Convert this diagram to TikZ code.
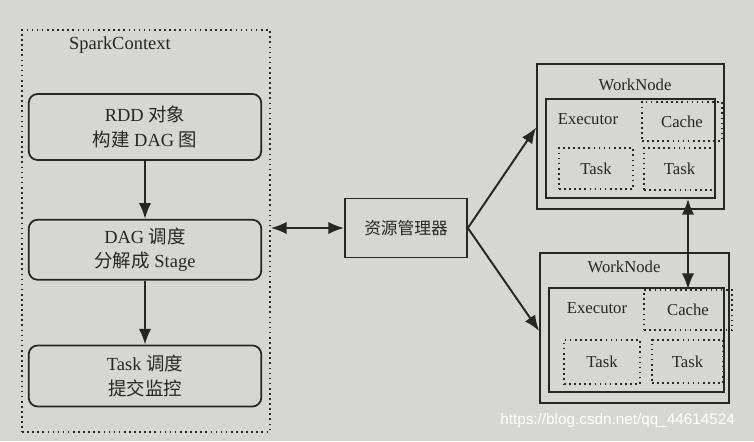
\documentclass[tikz,border=0pt]{standalone}
\usepackage{fontspec}
\setmainfont{Liberation Serif}
\newfontfamily\zhfont{Noto Sans CJK SC}
\newfontfamily\urlfont{Liberation Sans}
\usetikzlibrary{arrows.meta,positioning}

\definecolor{paper}{RGB}{214,214,210}
\definecolor{ink}{RGB}{38,38,38}

\begin{document}
\begin{tikzpicture}[
    x=0.02cm, y=-0.02cm,
    font=\fontsize{9.5pt}{12pt}\selectfont, text=ink,
    frame/.style={draw=ink, line width=1pt, inner sep=0pt},
    step box/.style={frame, rounded corners=5pt, align=center, minimum width=4.65cm, font=\fontsize{10.5pt}{14pt}\selectfont},
    dotbox/.style={draw=ink, dotted, line width=0.9pt, inner sep=0pt},
    arrow/.style={-{Latex[length=9pt,width=7pt]}, draw=ink, line width=1.1pt},
    dblarrow/.style={{Latex[length=9pt,width=7pt]}-{Latex[length=9pt,width=7pt]}, draw=ink, line width=1.1pt}
  ]
    \fill[paper] (0,0) rectangle (754,441);
    \useasboundingbox (0,0) rectangle (754,441);

    % driver side
    \node[dotbox, minimum width=4.96cm, minimum height=8.04cm] (ctx) at (146,231) {};
    \node[anchor=west, font=\fontsize{10.5pt}{12pt}\selectfont] (ctxlabel) at (63,45) {SparkContext};
    \node[step box, minimum height=1.32cm] (rdd) at (145,127) {RDD {\zhfont 对象}\\{\zhfont 构建} DAG {\zhfont 图}};
    \node[step box, minimum height=1.2cm, below=1.16cm of rdd] (dag) {DAG {\zhfont 调度}\\{\zhfont 分解成} Stage};
    \node[step box, minimum height=1.22cm, below=1.28cm of dag] (task) {Task {\zhfont 调度}\\{\zhfont 提交监控}};

    \node[frame, minimum width=2.44cm, minimum height=1.18cm] (rm) at (406,228) {\zhfont 资源管理器};

    % worker 1
    \node[frame, minimum width=3.74cm, minimum height=2.9cm] (wn1) at (630.5,136.5) {};
    \node (wn1label) at (635,85) {WorkNode};
    \node[frame, minimum width=3.38cm, minimum height=1.98cm] (ex1) at (630.5,148.5) {};
    \node (ex1label) at (588,119) {Executor};
    \node[dotbox, minimum width=1.6cm, minimum height=0.78cm] (ca1) at (682,121.5) {Cache};
    \node[dotbox, minimum width=1.48cm, minimum height=0.82cm] (tk1) at (596,168.5) {Task};
    \node[dotbox, minimum width=1.42cm, minimum height=0.84cm] (tk2) at (679.5,169) {Task};

    % worker 2
    \node[frame, minimum width=3.78cm, minimum height=3.0cm] (wn2) at (634.5,328) {};
    \node (wn2label) at (624,267) {WorkNode};
    \node[frame, minimum width=3.5cm, minimum height=2.08cm] (ex2) at (636.5,340) {};
    \node (ex2label) at (597,308) {Executor};
    \node[dotbox, minimum width=1.76cm, minimum height=0.8cm] (ca2) at (688,310) {Cache};
    \node[dotbox, minimum width=1.52cm, minimum height=0.88cm] (tk3) at (602,362) {Task};
    \node[dotbox, minimum width=1.42cm, minimum height=0.86cm] (tk4) at (687.5,361.5) {Task};

    \node[anchor=west, text=white, inner sep=0pt, font=\urlfont\fontsize{8.7pt}{10pt}\selectfont] (mark) at (500,421) {https://blog.csdn.net/qq\_44614524};

    \draw[arrow] (rdd) -- (dag);
    \draw[arrow] (dag) -- (task);
    \draw[dblarrow] (rm.west -| ctx.east) -- (rm.west);
    \draw[arrow] (rm.east) -- ([yshift=0.18cm]wn1.west);
    \draw[arrow] (rm.east) -- ([yshift=-0.06cm]wn2.west);
    \draw[dblarrow] (ca2.north |- ex1.south) -- (ca2.north);
  \end{tikzpicture}
\end{document}
